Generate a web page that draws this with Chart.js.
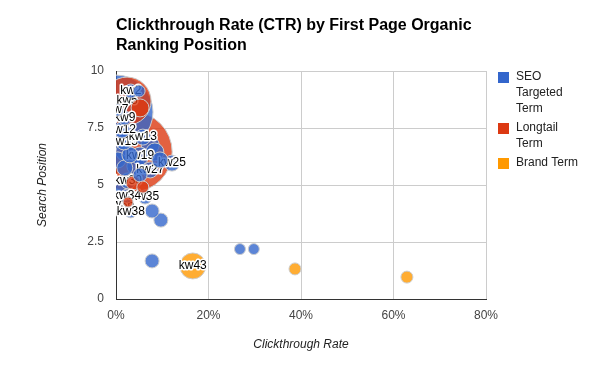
<!DOCTYPE html>
<html>
<head>
<meta charset="utf-8">
<script src="https://cdn.jsdelivr.net/npm/chart.js@4.4.0/dist/chart.umd.min.js"></script>
<style>
  html, body { margin: 0; padding: 0; background: #fff; }
</style>
</head>
<body>
<canvas id="chart" width="600" height="371"></canvas>
<script>
// SEO Targeted Term
const seoLabels = ["kw1", "kw2", "", "kw7", "kw9", "kw12", "kw13", "kw15", "", "kw19", "", "", "kw25", "kw27", "", "", "kw30", "", "kw34", "kw35", "kw36", "kw38", "", "", "", "", "", "", "", "", ""]
const seoCtr = [0, 3.2, 5.0, 0.4, 1.9, 1.3, 5.8, 1.7, 3.0, 5.2, 8.4, 9.5, 12.1, 7.4, 1.9, 0.4, 2.6, 5.2, 2.4, 6.3, 0.9, 3.2, 7.8, 9.7, 7.8, 26.8, 29.8, 1.9, 7.4, 4.3, 0.4]
const seoPos = [8.2, 9.12, 9.12, 8.29, 7.94, 7.41, 7.1, 6.89, 6.32, 6.27, 6.45, 6.1, 5.96, 5.66, 5.75, 6.1, 5.18, 5.44, 4.52, 4.47, 4.12, 3.82, 3.86, 3.46, 1.67, 2.19, 2.19, 6.45, 6.75, 5.83, 4.96]
const seoSize = [37, 7, 6, 6, 7, 8, 8, 8, 8, 9, 9, 8, 8, 8, 8, 8, 8, 7, 7, 7, 7, 6, 7, 7, 7, 5.5, 5.5, 9, 9, 9, 8]

// Longtail Term
const longLabels = ["kw5", "", "", "", "", ""]
const longCtr = [2.4, 3.5, 5.2, 3.7, 5.8, 2.6]
const longPos = [8.68, 6.45, 8.38, 5.09, 4.91, 4.25]
const longSize = [24, 40, 9, 7, 6, 5]

// Brand Term
const brandLabels = ["kw43", "", ""]
const brandCtr = [16.6, 38.7, 62.9]
const brandPos = [1.45, 1.32, 0.96]
const brandSize = [13, 6, 6]

const xTicks = [0, 20, 40, 60, 80]
const yTicks = [0, 2.5, 5, 7.5, 10]

const series = [
  { name: ["SEO", "Targeted", "Term"], color: "#3366cc", fill: "rgba(51,102,204,0.8)", labels: seoLabels, x: seoCtr, y: seoPos, r: seoSize },
  { name: ["Longtail", "Term"], color: "#dc3912", fill: "rgba(220,57,18,0.8)", labels: longLabels, x: longCtr, y: longPos, r: longSize },
  { name: ["Brand Term"], color: "#ff9900", fill: "rgba(255,153,0,0.8)", labels: brandLabels, x: brandCtr, y: brandPos, r: brandSize },
]

// one dataset per bubble; Chart.js paints the last dataset first,
// so sort smallest first to get the big bubbles underneath
const bubbles = []
series.forEach((s) => {
  s.x.forEach((v, i) => {
    bubbles.push({ x: v, y: s.y[i], r: s.r[i], kw: s.labels[i], fill: s.fill })
  })
})
bubbles.sort((a, b) => a.r - b.r)

const datasets = bubbles.map((b) => ({
  data: [{ x: b.x, y: b.y, r: b.r }],
  kw: b.kw,
  backgroundColor: b.fill,
  borderColor: "#cccccc",
  borderWidth: 1,
  clip: 0,
}))

const FONT = "Arial, 'Liberation Sans', sans-serif"

const bubbleLabels = {
  id: "bubbleLabels",
  afterDatasetDraw(chart, args) {
    const ds = chart.data.datasets[args.index]
    if (!ds.kw) return
    const el = args.meta.data[0]
    const area = chart.chartArea
    const ctx = chart.ctx
    ctx.save()
    ctx.beginPath()
    ctx.rect(area.left, area.top, area.right - area.left, area.bottom - area.top)
    ctx.clip()
    ctx.font = "12px " + FONT
    ctx.textAlign = "center"
    ctx.textBaseline = "middle"
    ctx.lineJoin = "round"
    ctx.lineWidth = 3
    ctx.strokeStyle = "#ffffff"
    ctx.strokeText(ds.kw, el.x, el.y)
    ctx.fillStyle = "#000000"
    ctx.fillText(ds.kw, el.x, el.y)
    ctx.restore()
  },
}

const titleAndLegend = {
  id: "titleAndLegend",
  afterDraw(chart) {
    const ctx = chart.ctx
    const area = chart.chartArea
    ctx.save()
    ctx.textBaseline = "middle"
    ctx.textAlign = "left"
    ctx.fillStyle = "#000000"
    ctx.font = "bold 16px " + FONT
    ctx.fillText("Clickthrough Rate (CTR) by First Page Organic", area.left, 26)
    ctx.fillText("Ranking Position", area.left, 46)

    // legend on the right
    ctx.font = "12px " + FONT
    let y = 77
    series.forEach((s) => {
      ctx.fillStyle = s.color
      ctx.fillRect(498, y - 5, 11, 11)
      ctx.fillStyle = "#222222"
      s.name.forEach((line, i) => {
        ctx.fillText(line, 516, y + i * 16)
      })
      y += s.name.length * 16 + 3
    })
    ctx.restore()
  },
}

new Chart(document.getElementById("chart"), {
  type: "bubble",
  data: { datasets },
  plugins: [bubbleLabels, titleAndLegend],
  options: {
    responsive: false,
    animation: false,
    events: [],
    layout: { padding: { top: 71, right: 114, left: 0, bottom: 0 } },
    plugins: {
      legend: { display: false },
      tooltip: { enabled: false },
      title: { display: false },
    },
    scales: {
      x: {
        type: "linear",
        min: 0,
        max: 80,
        afterBuildTicks: (scale) => { scale.ticks = xTicks.map((v) => ({ value: v })) },
        afterFit: (scale) => { scale.height = 72 },
        grid: { color: "#cccccc", drawTicks: false },
        border: { color: "#333333", width: 1 },
        ticks: {
          padding: 9,
          color: "#444444",
          font: { family: FONT, size: 12 },
          callback: (v) => v + "%",
        },
        title: {
          display: true,
          text: "Clickthrough Rate",
          color: "#222222",
          font: { family: FONT, size: 12, style: "italic" },
          padding: { top: 0, bottom: 19 },
        },
      },
      y: {
        type: "linear",
        min: 0,
        max: 10,
        afterBuildTicks: (scale) => { scale.ticks = yTicks.map((v) => ({ value: v })) },
        afterFit: (scale) => { scale.width = 116 },
        grid: { color: "#cccccc", drawTicks: false },
        border: { color: "#333333", width: 1 },
        ticks: {
          padding: 12,
          color: "#444444",
          font: { family: FONT, size: 12 },
          callback: (v) => String(v),
        },
        title: {
          display: true,
          text: "Search Position",
          color: "#222222",
          font: { family: FONT, size: 12, style: "italic" },
          padding: { top: 35, bottom: 0 },
        },
      },
    },
  },
})
</script>
</body>
</html>
